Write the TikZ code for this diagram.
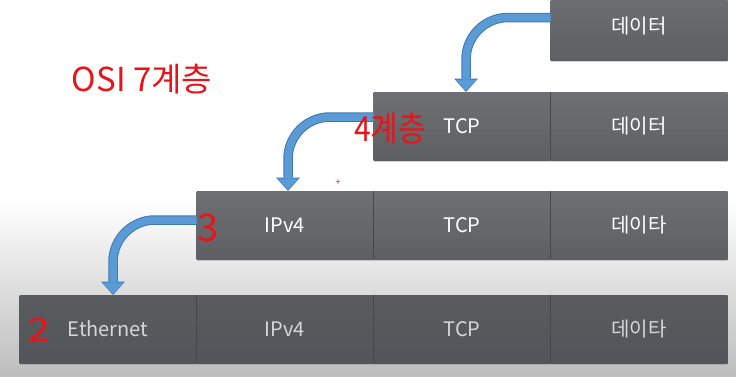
\documentclass[tikz,border=0pt]{standalone}
\usepackage{fontspec}
\setmainfont{Noto Sans CJK KR}
\usepackage{xcolor}
\usetikzlibrary{arrows.meta,calc,positioning,shadows}

\definecolor{celltop}{HTML}{6F7074}
\definecolor{cellbot}{HTML}{5E5F62}
\definecolor{celldark}{HTML}{54555A}
\definecolor{seam}{HTML}{46474A}
\definecolor{flowfill}{HTML}{5B9BD5}
\definecolor{flowedge}{HTML}{3F78B5}
\definecolor{pen}{HTML}{E8141B}
\definecolor{floor}{HTML}{BDBDBD}

\tikzset{
  cell/.style={minimum width=177pt,minimum height=68pt,inner sep=0pt,outer sep=0pt,
    top color=celltop,bottom color=cellbot,text=white,
    font=\fontsize{20}{24}\selectfont,
    drop shadow={shadow xshift=0.8pt,shadow yshift=-1.6pt,opacity=0.35}},
  lowcell/.style={cell,top color=cellbot!96!black,bottom color=celldark,text=white!84!black},
  seam/.style={draw=seam,line width=1.6pt},
  flow/.style={draw=flowfill,line width=7.5pt,rounded corners=42pt,shorten >=1pt,
    -{Triangle[width=21pt,length=11.5pt,line width=0pt]},
    preaction={draw=flowedge,line width=9.5pt,shorten >=0pt,
      -{Triangle[width=24pt,length=13.5pt,line width=0pt]}}},
  pen/.style={text=pen,inner sep=0pt,font=\fontsize{#1}{#1}\selectfont},
}

\begin{document}
\begin{tikzpicture}[x=1pt,y=1pt]
  \clip (0,0) rectangle (736,376);
  \fill[white] (0,0) rectangle (736,376);
  \shade[top color=white,bottom color=floor] (0,0) rectangle (736,176);

  % frame rows, from the top (data only) down to the link layer
  \node[cell] (dat1) at (639,350) {데이터};

  \node[cell] (tcp2) at (462,250) {TCP};
  \node[cell,right=0pt of tcp2] (dat2) {데이터};

  \node[cell] (ip3) at (285,151) {IPv4};
  \node[cell,right=0pt of ip3] (tcp3) {TCP};
  \node[cell,right=0pt of tcp3] (dat3) {데이타};

  \node[lowcell] (eth) at (108,47) {Ethernet};
  \node[lowcell,right=0pt of eth] (ip4) {IPv4};
  \node[lowcell,right=0pt of ip4] (tcp4) {TCP};
  \node[lowcell,right=0pt of tcp4] (dat4) {데이타};

  \foreach \c in {dat2,tcp3,dat3,ip4,tcp4,dat4}
    \draw[seam] (\c.north west) -- (\c.south west);

  \draw[flow] ($(dat1.west)+(0,8.5)$) -| ($(tcp2.north)+(4,0)$);
  \draw[flow] ($(tcp2.west)+(0,9)$) -| ($(ip3.north)+(3,0)$);
  \draw[flow] ($(ip3.west)+(0,5)$) -| ($(eth.north)+(5,0)$);

  % handwritten marks
  \node[pen=33] (osi) at (142,297) {OSI 7계층};
  \node[pen=30,yscale=1.15] (l4) at (390,247) {4계층};
  \node[pen=38] (l3) at (208,148) {3};
  \node[pen=32,xscale=1.3] (l2) at (39,46) {2};
  \node[pen=9] (mark) at (338,193) {+};
\end{tikzpicture}
\end{document}
